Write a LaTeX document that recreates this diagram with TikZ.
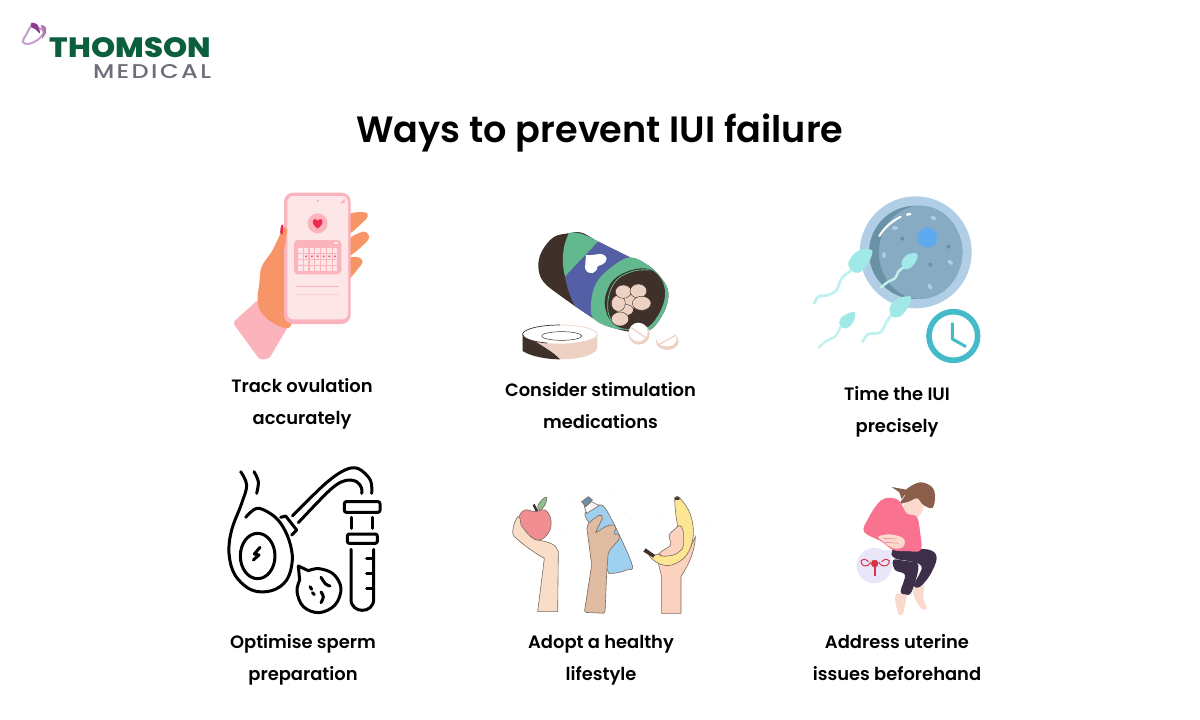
\documentclass[tikz,border=0pt]{standalone}
\usepackage{fontspec}
\setmainfont{Poppins}[BoldFont={Poppins SemiBold}]
\newfontfamily\logofont{Poppins Medium}[LetterSpace=10]
\newfontfamily\logoheavy{Poppins ExtraBold}
\definecolor{logogreen}{HTML}{0B5F3C}
\definecolor{logogray}{HTML}{6D6E7A}
\definecolor{logopurple}{HTML}{8E3A8E}
\definecolor{logolilac}{HTML}{C4A0CC}
\definecolor{phonepink}{HTML}{FBB3BC}
\definecolor{screenpink}{HTML}{FDE6E8}
\definecolor{handorange}{HTML}{F79468}
\definecolor{heartred}{HTML}{EE2B4F}
\definecolor{pillbrown}{HTML}{3F3029}
\definecolor{pillgreen}{HTML}{63B98F}
\definecolor{pillblue}{HTML}{545FA6}
\definecolor{pillcream}{HTML}{EDD2C3}
\definecolor{eggring}{HTML}{B0CFE6}
\definecolor{eggdark}{HTML}{6A91A5}
\definecolor{egglight}{HTML}{87ABC2}
\definecolor{eggnucleus}{HTML}{5FA9EE}
\definecolor{spermhead}{HTML}{A0E9E7}
\definecolor{spermtail}{HTML}{BFF2EF}
\definecolor{clockblue}{HTML}{45BAC9}
\definecolor{armcream}{HTML}{F9DDC6}
\definecolor{armtan}{HTML}{DFBBA1}
\definecolor{armpeach}{HTML}{FAD2BE}
\definecolor{applered}{HTML}{F18E92}
\definecolor{leafgreen}{HTML}{8FBF8F}
\definecolor{bottleblue}{HTML}{9FD0EF}
\definecolor{bananayellow}{HTML}{FCE593}
\definecolor{outlinebrown}{HTML}{7A6A60}
\definecolor{hairbrown}{HTML}{8B5E4B}
\definecolor{skinpink}{HTML}{FBD9CC}
\definecolor{sweaterpink}{HTML}{F9728F}
\definecolor{legdark}{HTML}{3D2F4A}
\definecolor{bubblelilac}{HTML}{E9E6FA}
\definecolor{uterusred}{HTML}{D8333E}
\tikzset{
	heading/.style={font=\bfseries\fontsize{36.6}{37}\selectfont},
	caption/.style={font=\bfseries\fontsize{17.9}{32}\selectfont, align=center},
	blob/.style={smooth cycle, tension=0.6},
	curve/.style={smooth, tension=0.6, line cap=round, line join=round},
	iconline/.style={line width=3pt, line cap=round, line join=round},
	fruitline/.style={draw=outlinebrown, line width=0.6pt}
}
\begin{document}
\begin{tikzpicture}[x=1pt, y=-1pt]
	\useasboundingbox (0, 0) rectangle (1200, 720);
	\fill[white] (0, 0) rectangle (1200, 720);

	\node[text=logogreen, font=\logoheavy] (Thomson)at(130.5, 48) {\resizebox{161pt}{20pt}{THOMSON}};
	\node[text=logogray, font=\logofont] (Medical)at(152, 72) {\resizebox{118pt}{14pt}{MEDICAL}};
	\begin{scope}[scale=1/3]
		\draw[logolilac, line width=2pt, blob] plot coordinates {(95,78) (78,105) (68,125) (85,132) (115,118) (132,95) (118,85)};
		\fill[logopurple, blob] plot coordinates {(95,68) (112,74) (120,100) (106,88) (93,80)};
		\fill[logopurple!70, blob] plot coordinates {(122,76) (136,80) (138,98) (126,116) (130,95)};
	\end{scope}

	\node[heading] (Title)at(600, 133) {Ways to prevent IUI failure};

	\begin{scope}[shift={(210, 180)}, scale=1/3]
		\fill[phonepink, rounded corners=3pt] (143,360) -- (68,428) -- (150,540) -- (178,535) -- (240,430) -- cycle;
		\fill[handorange, blob] plot coordinates {(226,133) (205,175) (185,215) (155,260) (148,310) (143,365) (160,405) (205,437) (245,432) (260,300) (240,150)};
		\fill[handorange, blob] plot coordinates {(415,105) (465,97) (473,110) (455,130) (415,160)};
		\fill[handorange, blob] plot coordinates {(415,180) (460,155) (477,170) (465,190) (415,228)};
		\fill[handorange, blob] plot coordinates {(415,238) (445,232) (458,245) (445,265) (415,295)};
		\fill[phonepink, rounded corners=9pt] (222,38) rectangle (422,432);
		\fill[screenpink, rounded corners=6pt] (232,48) rectangle (414,418);
		\fill[handorange] (222,140) -- (232,150) -- (222,210) -- cycle;
		\fill[heartred, rounded corners=1pt] (210,160) -- (213,135) -- (220,133) -- (218,165) -- cycle;
		\fill[phonepink] (323,62) circle (4);
		\fill[phonepink] (390,70) -- (404,56) -- (404,70) -- cycle;
		\fill[phonepink] (323,130) circle (30);
		\fill[heartred] (323,146) .. controls (298,128) and (310,108) .. (323,122) .. controls (336,108) and (348,128) .. (323,146);
		\fill[phonepink, rounded corners=4pt] (252,180) rectangle (394,283);
		\fill[screenpink] (372,185) rectangle (385,193);
		\foreach \row in {211, 229, 247, 265}
			\foreach \col in {0,...,6}
				\fill[screenpink] ({271+17.4*\col-7}, {\row-7}) rectangle ({271+17.4*\col+7}, {\row+7});
		\foreach \col in {1,...,6}
			\fill[heartred!80] ({271+17.4*\col}, 229) circle (3.5);
		\draw[phonepink, line width=0.8pt] (258,319) -- (388,319);
		\draw[phonepink!60, line width=1.2pt] (258,344) -- (388,344);
	\end{scope}

	\begin{scope}[shift={(510, 220)}, scale=1/3]
		\fill[pillbrown, blob] plot coordinates {(175,40) (130,52) (95,95) (85,140) (100,185) (155,230) (250,295) (300,320) (360,335) (420,330) (460,280) (475,230) (465,190) (420,140) (360,112) (265,65) (215,38)};
		\fill[pillgreen] (177,39) .. controls (195,36) and (215,36) .. (265,65) -- (165,170) .. controls (155,130) and (155,80) .. (177,39) -- cycle;
		\fill[pillblue] (265,65) -- (360,112) -- (300,145) .. controls (260,190) and (240,240) .. (250,295) -- (195,258) .. controls (180,230) and (170,200) .. (165,170) -- cycle;
		\fill[pillgreen, blob] plot coordinates {(360,112) (420,140) (465,190) (475,230) (460,280) (420,330) (360,330) (300,322) (250,295) (243,250) (258,190) (300,145)};
		\fill[pillbrown, blob] plot coordinates {(285,235) (310,180) (365,150) (420,148) (455,180) (465,225) (450,275) (415,320) (365,328) (320,318) (292,285)};
		\draw[pillgreen, line width=0.8pt, curve] plot coordinates {(312,318) (294,275) (298,220) (325,175) (375,152) (420,150)};
		\foreach \cx/\cy/\rx/\ry in {362/245/24/22, 345/270/25/17, 325/250/21/24, 340/215/24/20, 385/213/25/21, 395/250/28/21, 330/297/26/21}
			\draw[pillbrown, line width=0.4pt, fill=pillcream] (\cx, \cy) ellipse ({\rx} and {\ry});
		\fill[white] (228,105) .. controls (250,110) and (280,90) .. (290,115) .. controls (290,135) and (265,135) .. (262,140) .. controls (262,160) and (235,170) .. (225,145) -- cycle;
		\fill[pillcream] (38,343) -- (38,393) .. controls (60,410) and (110,418) .. (150,418) .. controls (200,418) and (250,410) .. (262,385) -- (262,343) -- cycle;
		\fill[pillbrown] (38,340) -- (38,393) .. controls (60,408) and (110,418) .. (150,418) .. controls (130,395) and (90,375) .. (38,340) -- cycle;
		\fill[white] (150,343) ellipse (112 and 28);
		\draw[pillbrown, line width=0.7pt] (150,315) arc (-90:-250:112 and 28);
		\draw[pillcream, line width=0.7pt] (150,315) arc (-90:70:112 and 28);
		\draw[pillbrown, line width=0.5pt] (155,348) ellipse (60 and 13);
		\fill[pillcream] (387,342) circle (32);
		\fill[white] (385,336) circle (28);
		\draw[pillcream, line width=1.2pt] (362,322) -- (414,358);
		\fill[pillcream] (472,364) ellipse (34 and 26);
		\fill[white] (470,358) ellipse (30 and 21);
		\draw[pillcream, line width=1.2pt] (446,374) -- (497,346);
	\end{scope}

	\begin{scope}[shift={(800, 190)}, scale=1/3]
		\fill[eggring] (347,187) circle (168);
		\fill[eggdark] (347,187) circle (140);
		\fill[egglight] (362,187) ellipse (125 and 140);
		\fill[eggnucleus] (382,143) circle (30);
		\foreach \cx/\cy in {307/146, 446/170, 391/224}
			\fill[eggdark] (\cx, \cy) circle (6);
		\foreach \cx/\cy/\ang in {285/114/0, 400/84/-25, 252/195/80, 451/217/-40, 390/290/-70}
			\fill[eggring, rotate around={\ang:(\cx, \cy)}] (\cx, \cy) ellipse (9 and 5.5);
		\draw[white, line width=2pt, line cap=round] (238,138) .. controls (255,110) and (275,95) .. (302,80);
		\draw[white, line width=2.4pt, line cap=round] (321,74) -- (331,72);
		\draw[spermtail, line width=2.8pt, curve] plot coordinates {(155,240) (125,265) (110,300) (85,315) (55,320) (43,340)};
		\fill[spermhead, blob] plot coordinates {(215,180) (212,205) (190,240) (165,248) (145,225) (155,200) (180,180)};
		\draw[spermtail, line width=2.4pt, curve] plot coordinates {(310,232) (295,245) (285,265) (265,275) (243,292)};
		\fill[spermhead, blob] plot coordinates {(350,190) (350,210) (330,235) (310,235) (305,215) (320,195)};
		\draw[spermtail, line width=2.8pt, curve] plot coordinates {(275,375) (260,395) (240,428) (205,432) (188,455)};
		\fill[spermhead, blob] plot coordinates {(332,320) (325,350) (300,380) (275,378) (270,350) (295,325)};
		\draw[spermtail, line width=2.4pt, curve] plot coordinates {(122,410) (105,440) (80,452) (57,472)};
		\fill[spermhead, blob] plot coordinates {(165,367) (160,395) (140,415) (120,408) (122,385) (145,370)};
		\draw[clockblue, line width=5.6pt] (460,438) circle (73);
		\draw[clockblue, line width=3pt] (457,398) -- (457,447) -- (498,470);
	\end{scope}

	\begin{scope}[shift={(215, 460)}, scale=1/3]
		\draw[iconline, curve] plot coordinates {(77,35) (95,75) (80,130) (50,210) (42,280) (60,345) (110,390) (170,392) (215,360) (232,300) (222,240) (197,190) (165,160) (125,145) (92,172)};
		\draw[iconline, curve] plot coordinates {(117,35) (130,65) (125,100)};
		\draw[iconline] (128,288) ellipse (52 and 68);
		\draw[iconline] (135,262) -- (118,282) -- (132,285) -- (115,300);
		\draw[iconline] (197,172) -- (212,168) -- (245,210) -- (230,225);
		\draw[iconline, curve] plot coordinates {(232,168) (330,72) (390,30) (430,26) (466,60) (470,100)};
		\draw[iconline, curve] plot coordinates {(250,188) (345,90) (390,62) (425,65) (440,85) (440,100)};
		\draw[iconline, rounded corners=2pt] (388,125) rectangle (495,157);
		\draw[iconline] (408,172) -- (408,205);
		\draw[iconline] (473,172) -- (473,205);
		\draw[iconline, rounded corners=2pt] (397,222) rectangle (487,250);
		\draw[iconline] (408,268) -- (408,418) .. controls (408,462) and (476,462) .. (476,418) -- (476,268);
		\foreach \tick in {295, 340, 385}
			\draw[iconline] (455,\tick) -- (476,\tick);
		\draw[iconline] (250,318) -- plot[smooth, tension=0.6] coordinates {(280,332) (312,326) (355,342) (378,385) (360,435) (312,458) (265,440) (246,395) (254,360)} -- cycle;
		\draw[iconline, curve] plot coordinates {(318,352) (332,372) (345,378)};
		\draw[iconline] (285,380) -- (290,388);
		\draw[iconline] (292,398) -- (298,404);
		\draw[iconline, curve] plot coordinates {(318,396) (325,410) (318,428)};
	\end{scope}

	\begin{scope}[shift={(495, 485)}, scale=1/3]
		\foreach \cx/\cy in {28/88, 28/185, 105/22, 205/133, 223/40, 345/30, 390/83, 420/172, 490/90, 625/180, 645/120, 582/22}
			\fill[gray!12] (\cx, \cy) circle (2.5);
		\fill[pillbrown] (113,60) -- (119,57) -- (131,80) -- (123,82) -- cycle;
		\draw[fruitline, fill=leafgreen, blob] plot coordinates {(128,65) (140,45) (155,37) (150,60) (135,75)};
		\draw[fruitline, fill=applered, blob] plot coordinates {(72,95) (90,75) (120,80) (150,75) (167,100) (165,135) (145,160) (125,165) (95,145) (75,120)};
		\draw[fruitline, fill=armcream] (68,95) .. controls (55,115) and (50,140) .. (55,152) .. controls (85,180) and (120,205) .. (148,220) -- (128,380) -- (188,380) -- (190,200) .. controls (185,180) and (165,170) .. (125,165) .. controls (105,160) and (85,130) .. (78,120) -- (75,100) -- cycle;
		\draw[fruitline, fill=bottleblue, blob] plot coordinates {(270,85) (310,60) (340,85) (410,235) (395,255) (350,265) (335,250) (290,130)};
		\draw[fruitline, fill=screenpink!30] (268,65) -- (290,50) -- (312,62) -- (275,85) -- cycle;
		\draw[fruitline, fill=eggdark] (260,50) -- (280,35) -- (292,45) -- (272,65) -- cycle;
		\draw[fruitline, fill=armtan, rounded corners=2pt] (275,125) -- (285,200) -- (290,240) -- (268,382) -- (330,385) -- (335,265) -- (340,200) -- (375,160) -- (370,145) -- (355,150) -- (365,125) -- (350,118) -- (330,125) -- (300,145) -- (325,95) -- (315,88) -- (285,110) -- cycle;
		\draw[fruitline, fill=armpeach] (601,155) .. controls (600,200) and (580,240) .. (558,275) -- (558,385) -- (500,385) -- (500,275) -- (490,235) -- (585,190) -- cycle;
		\draw[fruitline, fill=bananayellow, blob] plot coordinates {(540,38) (555,40) (585,85) (595,150) (575,210) (530,240) (490,235) (462,210) (490,208) (530,185) (548,140) (542,85)};
		\fill[pillbrown] (445,200) -- (452,190) -- (480,210) -- (475,218) -- cycle;
		\fill[pillbrown] (538,38) -- (552,36) -- (554,44) -- (541,45) -- cycle;
		\draw[fruitline, fill=armpeach, rounded corners=3pt] (490,205) -- (530,180) -- (520,150) -- (555,118) -- (565,135) -- (565,190) -- (540,210) -- (500,215) -- cycle;
	\end{scope}

	\begin{scope}[shift={(840, 475)}, scale=1/3]
		\fill[skinpink, blob] plot coordinates {(165,365) (180,355) (200,355) (195,390) (188,417) (175,415)};
		\fill[skinpink, blob] plot coordinates {(220,340) (250,330) (250,370) (260,400) (245,402) (225,370)};
		\fill[legdark, blob] plot coordinates {(160,255) (195,258) (235,270) (215,350) (195,358) (182,348) (195,300) (165,285)};
		\fill[legdark, blob] plot coordinates {(155,225) (205,222) (270,225) (290,250) (270,300) (240,335) (222,330) (245,280) (225,262) (165,250)};
		\fill[skinpink, blob] plot coordinates {(205,75) (235,70) (250,95) (240,120) (215,130) (190,100)};
		\fill[hairbrown, blob] plot coordinates {(200,42) (240,22) (275,35) (285,60) (278,98) (250,90) (232,70) (205,80) (180,85) (195,62)};
		\fill[hairbrown] (155,36) -- (205,45) -- (185,72) -- (178,52) -- cycle;
		\fill[sweaterpink, blob] plot coordinates {(135,70) (175,75) (200,115) (230,125) (240,170) (242,225) (200,228) (160,225) (125,200) (72,170) (85,130) (110,90)};
		\fill[skinpink, blob] plot coordinates {(115,185) (150,178) (190,190) (190,215) (160,220) (130,200)};
		\draw[sweaterpink, line width=0.5pt] (130,190) -- (170,192);
		\draw[sweaterpink, line width=0.5pt] (135,202) -- (175,205);
		\fill[bubblelilac] (103,272) circle (53);
		\fill[bubblelilac] (125,225) -- (157,225) -- (150,255) -- cycle;
		\fill[uterusred!70] (95,255) -- (112,255) -- (108,275) -- (100,275) -- cycle;
		\fill[uterusred] (104,266) circle (11);
		\fill[uterusred] (101,275) rectangle (108,302);
		\draw[uterusred, line width=1pt, curve] plot coordinates {(92,262) (82,272) (68,270) (63,258) (75,253) (85,260)};
		\draw[uterusred, line width=1pt, curve] plot coordinates {(117,262) (126,272) (142,270) (148,258) (136,253) (125,260)};
	\end{scope}

	\node[caption] (Track)at(302, 404) {Track ovulation\\accurately};
	\node[caption] (Consider)at(600.5, 406) {Consider stimulation\\medications};
	\node[caption] (Time)at(897, 412) {Time the IUI\\precisely};
	\node[caption] (Optimise)at(303, 660) {Optimise sperm\\preparation};
	\node[caption] (Adopt)at(601, 660) {Adopt a healthy\\lifestyle};
	\node[caption] (Address)at(897, 658) {Address uterine\\issues beforehand};
\end{tikzpicture}
\end{document}
